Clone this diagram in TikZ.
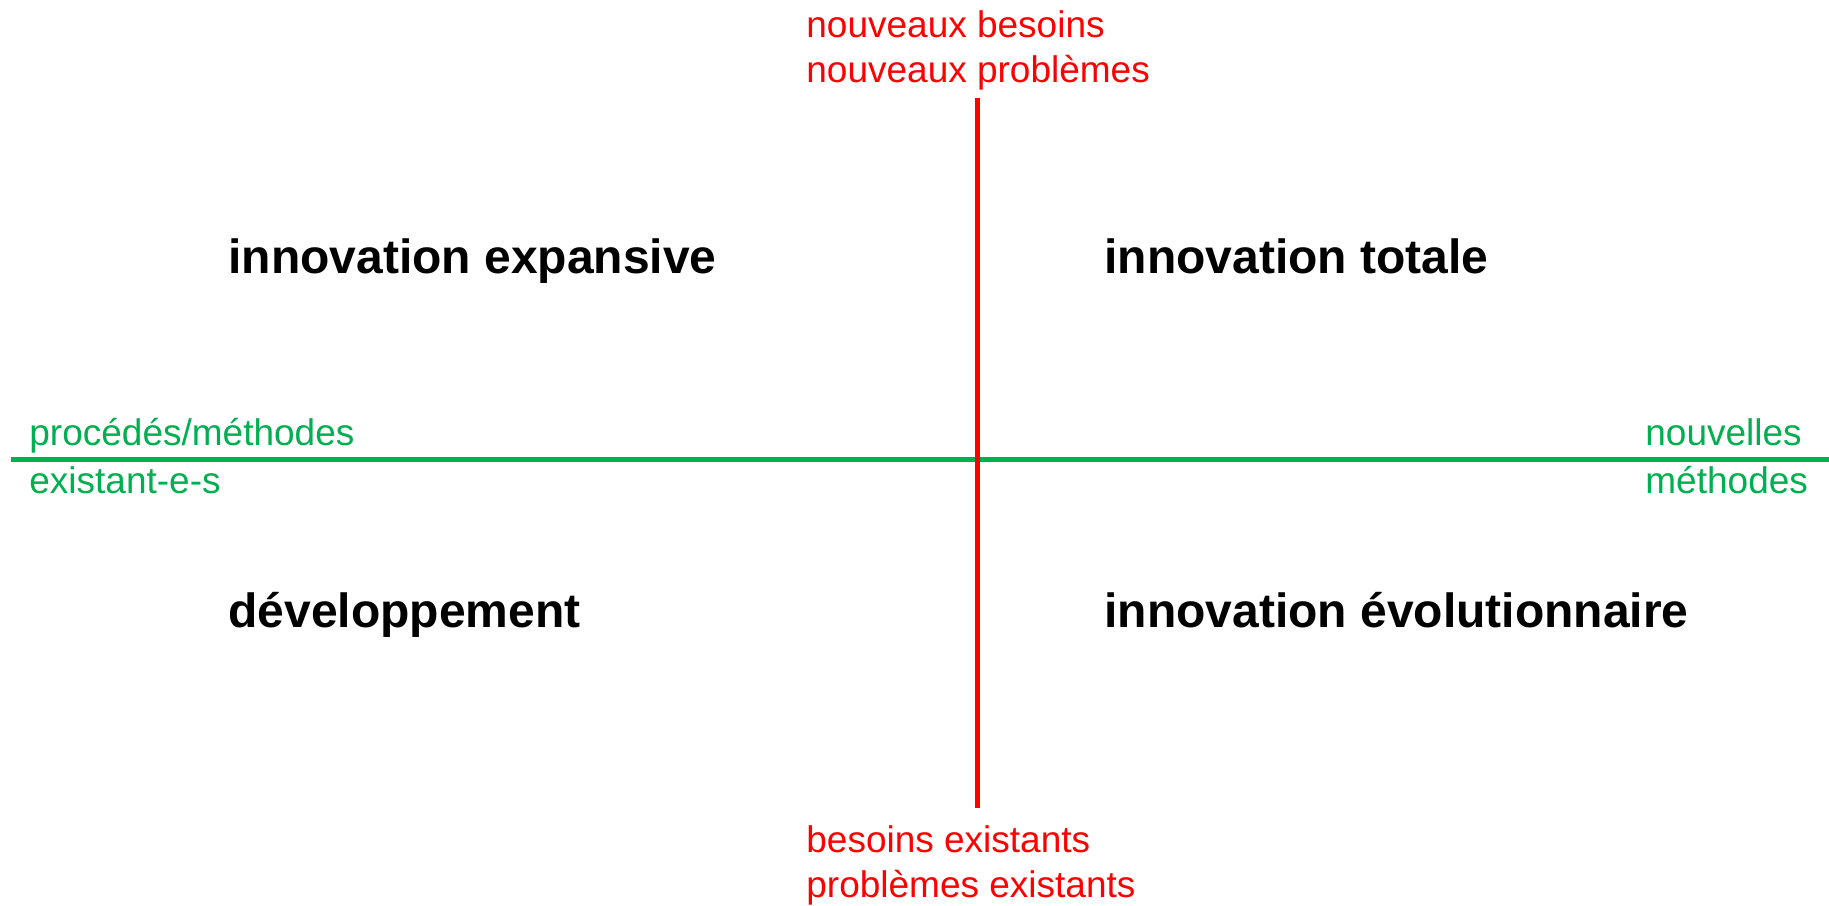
\documentclass[tikz,border=0pt]{standalone}
\usepackage{fontspec}
\setmainfont{Liberation Sans}
\usepackage{tikz}

\definecolor{axisred}{HTML}{FF0000}
\definecolor{axisgreen}{HTML}{00B050}

\begin{document}
\begin{tikzpicture}[x=0.5pt, y=-0.5pt,
		every node/.style={inner sep=0pt, anchor=base west, align=left},
		need/.style={text=axisred, font=\fontsize{18.5}{22.5}\selectfont},
		method/.style={text=axisgreen, font=\fontsize{18.5}{22.5}\selectfont},
		quadrant/.style={font=\fontsize{24}{28}\selectfont\bfseries}]
		\useasboundingbox (0,0) rectangle (1829,905);

		% Axes
		\coordinate (west) at (11,459.5);
		\coordinate (east) at (1829,459.5);
		\coordinate (north) at (977.5,98);
		\coordinate (south) at (977.5,808);
		\draw[axisgreen, line width=2.5pt] (west) -- (east);
		\draw[axisred, line width=2.5pt] (north) -- (south);

		% Axis labels (base = last line)
		\node[need] (newneeds) at (806,82) {nouveaux besoins\\nouveaux problèmes};
		\node[need] (oldneeds) at (806,897) {besoins existants\\problèmes existants};
		\node[method] (oldmeth) at (29,445) {procédés/méthodes};
		\node[method] (oldmethb) at (29,493) {existant-e-s};
		\node[method] (newmeth) at (1645,445) {nouvelles};
		\node[method] (newmethb) at (1645,493) {méthodes};

		% Quadrants
		\node[quadrant] (expansive) at (228,273) {innovation expansive};
		\node[quadrant] (totale) at (1104,273) {innovation totale};
		\node[quadrant] (devel) at (228,627) {développement};
		\node[quadrant] (evol) at (1104,627) {innovation évolutionnaire};
	\end{tikzpicture}
\end{document}
